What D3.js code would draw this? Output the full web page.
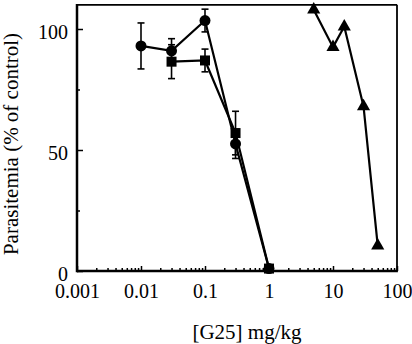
<!DOCTYPE html>
<html><head><meta charset="utf-8">
<script src="https://cdn.jsdelivr.net/npm/d3@7"></script>
</head>
<body style="margin:0">
<svg id="c" width="412" height="344" font-family="Times New Roman"></svg>
<script>
// ---- data ----
const circleDose = [0.01, 0.03, 0.1, 0.3, 1];
const circleVal  = [93, 91, 103.5, 52.5, 1];
const circleErr  = [9.5, 5, 4.7, 6, 0];

const squareDose = [0.03, 0.1, 0.3, 1];
const squareVal  = [86.5, 87, 57, 1];
const squareErr  = [7, 4.7, 9, 0];

const triDose = [5, 10, 15, 30, 50];
const triVal  = [108, 92.5, 101, 68, 10.5];

const xTicks = [0.001, 0.01, 0.1, 1, 10, 100];
const xTickLabels = ["0.001", "0.01", "0.1", "1", "10", "100"];
const yTicks = [0, 50, 100];
const yMinorTicks = [25, 75];

const xTitle = "[G25] mg/kg";
const yTitle = "Parasitemia (% of control)";

// ---- layout ----
const svg = d3.select("#c");
const L = 77, R = 397, T = 4.8, B = 271;
const x = d3.scaleLog().domain([0.001, 100]).range([L, R]);
const y = d3.scaleLinear().domain([0, 110]).range([B, T]);

// frame
svg.append("line").attr("x1", L).attr("x2", R).attr("y1", T).attr("y2", T).attr("stroke", "#000").attr("stroke-width", 1.8);
svg.append("line").attr("x1", R).attr("x2", R).attr("y1", T).attr("y2", B).attr("stroke", "#000").attr("stroke-width", 1.8);
svg.append("line").attr("x1", L).attr("x2", L).attr("y1", T - 0.9).attr("y2", B + 1.2).attr("stroke", "#000").attr("stroke-width", 2.5);
svg.append("line").attr("x1", L).attr("x2", R + 0.9).attr("y1", B).attr("y2", B).attr("stroke", "#000").attr("stroke-width", 2.5);

// titles
svg.append("text").attr("x", 247).attr("y", 339).attr("text-anchor", "middle")
  .attr("font-size", 21).text(xTitle);
svg.append("text").attr("transform", "translate(18,144) rotate(-90)").attr("text-anchor", "middle")
  .attr("font-size", 21).text(yTitle);

// minor x ticks
const minor = [];
for (let e = -3; e < 2; e++) for (let m = 2; m <= 9; m++) minor.push(m * Math.pow(10, e));

const gxMinor = svg.append("g").attr("transform", `translate(0,${B})`)
  .call(d3.axisBottom(x).tickValues(minor).tickSize(-3).tickFormat(""));
gxMinor.select(".domain").remove();
gxMinor.selectAll("line").attr("stroke-width", 1.5);

const gx = svg.append("g").attr("transform", `translate(0,${B})`)
  .call(d3.axisBottom(x).tickValues(xTicks).tickSize(-5).tickPadding(13)
        .tickFormat((d, i) => xTickLabels[i]));
gx.attr("font-family", "Times New Roman").attr("font-size", 20);
gx.select(".domain").remove();
gx.selectAll("line").attr("stroke-width", 1.5);
gx.selectAll("text").attr("fill", "#000");

const gyMinor = svg.append("g").attr("transform", `translate(${L},0)`)
  .call(d3.axisLeft(y).tickValues(yMinorTicks).tickSize(-3).tickFormat(""));
gyMinor.select(".domain").remove();
gyMinor.selectAll("line").attr("stroke-width", 1.5);

const gy = svg.append("g").attr("transform", `translate(${L},0)`)
  .call(d3.axisLeft(y).tickValues(yTicks).tickSize(-6).tickPadding(9).tickFormat(d3.format("d")));
gy.attr("font-family", "Liberation Serif").attr("font-size", 20);
gy.select(".domain").remove();
gy.selectAll("line").attr("stroke-width", 1.5);
gy.selectAll("text").attr("fill", "#000").attr("dy", "0.48em");

const line = d3.line().x(d => x(d[0])).y(d => y(d[1]));

function errBars(dose, val, err) {
  const g = svg.append("g").attr("stroke", "#000").attr("stroke-width", 1.6);
  dose.forEach((d, i) => {
    if (!err[i]) return;
    const cx = x(d), y1 = y(val[i] + err[i]), y2 = y(val[i] - err[i]);
    g.append("line").attr("x1", cx).attr("x2", cx).attr("y1", y1).attr("y2", y2);
    g.append("line").attr("x1", cx - 3.5).attr("x2", cx + 3.5).attr("y1", y1).attr("y2", y1);
    g.append("line").attr("x1", cx - 3.5).attr("x2", cx + 3.5).attr("y1", y2).attr("y2", y2);
  });
}

// series lines
const circPts = circleDose.map((d, i) => [d, circleVal[i]]);
const sqPts = squareDose.map((d, i) => [d, squareVal[i]]);
const triPts = triDose.map((d, i) => [d, triVal[i]]);

errBars(circleDose, circleVal, circleErr);
errBars(squareDose, squareVal, squareErr);

[circPts, sqPts, triPts].forEach(p => {
  svg.append("path").attr("d", line(p)).attr("fill", "none").attr("stroke", "#000").attr("stroke-width", 2.2);
});

// markers
svg.append("g").selectAll("circle").data(circPts).join("circle")
  .attr("cx", d => x(d[0])).attr("cy", d => y(d[1])).attr("r", 5.5).attr("fill", "#000");
svg.append("g").selectAll("rect").data(sqPts).join("rect")
  .attr("x", d => x(d[0]) - 5).attr("y", d => y(d[1]) - 5).attr("width", 10).attr("height", 10).attr("fill", "#000");
const tri = d3.symbol().type(d3.symbolTriangle).size(75);
svg.append("g").selectAll("path").data(triPts).join("path")
  .attr("transform", d => `translate(${x(d[0])},${y(d[1])})`).attr("d", tri).attr("fill", "#000");
</script>
</body></html>
